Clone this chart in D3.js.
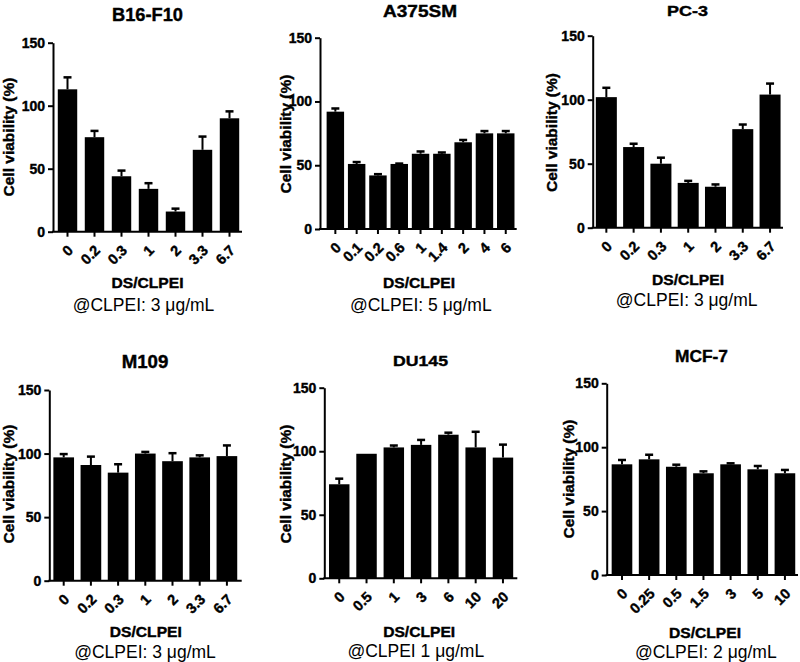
<!DOCTYPE html>
<html>
<head>
<meta charset="utf-8">
<script src="https://cdn.jsdelivr.net/npm/d3@7"></script>
<style>
  html, body { margin: 0; padding: 0; background: #fff; }
  svg { display: block; }
  text { font-family: "Liberation Sans", Arial, sans-serif; fill: #000; }
  .heavy { stroke: #000; stroke-width: 0.4px; }
</style>
</head>
<body>
<svg id="chart" width="800" height="662"></svg>
<script>
// ---------- DATA ----------
const panelTitles = ["B16-F10", "A375SM", "PC-3", "M109", "DU145", "MCF-7"];
const panelCaptions = ["@CLPEI: 3 μg/mL", "@CLPEI: 5 μg/mL", "@CLPEI: 3 μg/mL",
                       "@CLPEI: 3 μg/mL", "@CLPEI 1 μg/mL", "@CLPEI: 2 μg/mL"];
const xAxisTitle = "DS/CLPEI";
const yAxisTitle = "Cell viability (%)";
const yTicks = [0, 50, 100, 150];

const b16Categories = ["0", "0.2", "0.3", "1", "2", "3.3", "6.7"];
const b16Values     = [113, 75, 44, 34, 16, 65, 90];
const b16Errors     = [9.5, 5, 4.5, 4.5, 2.3, 10.5, 5.5];

const a375Categories = ["0", "0.1", "0.2", "0.6", "1", "1.4", "2", "4", "6"];
const a375Values     = [92, 51, 42, 51, 59, 59, 68, 75, 75];
const a375Errors     = [2.5, 1.5, 1, 0.3, 1.8, 1, 1.8, 1.8, 1.8];

const pc3Categories = ["0", "0.2", "0.3", "1", "2", "3.3", "6.7"];
const pc3Values     = [102, 63, 50, 35, 32, 77, 104];
const pc3Errors     = [7.3, 2.6, 4.7, 1.6, 1.8, 3.6, 8.6];

const m109Categories = ["0", "0.2", "0.3", "1", "2", "3.3", "6.7"];
const m109Values     = [97, 91, 85, 100, 94, 97, 98];
const m109Errors     = [2.6, 6.6, 6.6, 1.3, 6.3, 1.6, 8.4];

const du145Categories = ["0", "0.5", "1", "3", "6", "10", "20"];
const du145Values     = [74, 98, 103, 105, 113, 103, 95];
const du145Errors     = [4.4, 0, 1.5, 3.9, 1.6, 12.3, 10.2];

const mcf7Categories = ["0", "0.25", "0.5", "1.5", "3", "5", "10"];
const mcf7Values     = [86.6, 90.5, 84.7, 79.6, 86.6, 82.7, 79.6];
const mcf7Errors     = [3.4, 3.6, 1.6, 1.5, 0.8, 2.6, 2.6];

const panelData = [
  [b16Categories, b16Values, b16Errors],
  [a375Categories, a375Values, a375Errors],
  [pc3Categories, pc3Values, pc3Errors],
  [m109Categories, m109Values, m109Errors],
  [du145Categories, du145Values, du145Errors],
  [mcf7Categories, mcf7Values, mcf7Errors]
];

// ---------- LAYOUT (positions & styles) ----------
const layout = [
  {axisX: 53,    xEnd: 242,   y0: 231.7, yTop: 42.7,  bandL: 54,    bandR: 243,   pad: 0.28,
   tX: 147.5, tY: 21,  tSize: 18,   tLen: 71,   ytX: 14,  ytY: 137,
   dsX: 147.5, dsY: 288, capX: 143.5, capY: 311},
  {axisX: 320,   xEnd: 516.7, y0: 229,   yTop: 37.7,  bandL: 324.7, bandR: 516.4, pad: 0.18,
   tX: 420,   tY: 16.5, tSize: 16, tLen: 74,   ytX: 291, ytY: 134,
   dsX: 419,  dsY: 288, capX: 420.8, capY: 311},
  {axisX: 592.7, xEnd: 783,   y0: 227.7, yTop: 35.7,  bandL: 592.7, bandR: 783.7, pad: 0.23,
   tX: 687.5, tY: 15.5, tSize: 15, tLen: 41,   ytX: 557, ytY: 132.5,
   dsX: 688,  dsY: 285, capX: 686.7, capY: 306},
  {axisX: 49.3,  xEnd: 241.7, y0: 580.7, yTop: 390,   bandL: 50.1,  bandR: 240.5, pad: 0.24,
   tX: 145,   tY: 368, tSize: 17.5, tLen: 46.7, ytX: 14,  ytY: 484,
   dsX: 145.8, dsY: 637, capX: 145, capY: 658},
  {axisX: 324.3, xEnd: 517.3, y0: 578.3, yTop: 387.7, bandL: 325.6, bandR: 516.6, pad: 0.25,
   tX: 420.5, tY: 365.5, tSize: 15, tLen: 55,   ytX: 291, ytY: 484,
   dsX: 419.2, dsY: 637, capX: 415.8, capY: 657},
  {axisX: 606.7, xEnd: 798,   y0: 575,   yTop: 383.3, bandL: 608.4, bandR: 798.5, pad: 0.24,
   tX: 701.5, tY: 362, tSize: 16.5, tLen: 53,  ytX: 574, ytY: 479,
   dsX: 705,  dsY: 638, capX: 705.8, capY: 658}
];

const svg = d3.select("#chart");
const FONT = '"Liberation Sans", Arial, sans-serif';

panelData.forEach(([cats, vals, errs], i) => {
  const L = layout[i];
  const g = svg.append("g");
  const rows = cats.map((c, k) => ({c, v: vals[k], e: errs[k]}));

  const x = d3.scaleBand().domain(cats).range([L.bandL, L.bandR])
    .paddingInner(L.pad).paddingOuter(L.pad / 2);
  const y = d3.scaleLinear().domain([0, 150]).range([L.y0, L.yTop]);

  // bars
  g.selectAll("rect.bar").data(rows).join("rect")
    .attr("class", "bar")
    .attr("x", d => x(d.c))
    .attr("width", x.bandwidth())
    .attr("y", d => y(d.v))
    .attr("height", d => y(0) - y(d.v))
    .attr("fill", "#000");

  // error bars (upper only)
  const eb = g.selectAll("g.err").data(rows.filter(d => d.e > 0)).join("g").attr("class", "err");
  eb.append("line")
    .attr("x1", d => x(d.c) + x.bandwidth() / 2)
    .attr("x2", d => x(d.c) + x.bandwidth() / 2)
    .attr("y1", d => y(d.v))
    .attr("y2", d => y(d.v + d.e))
    .attr("stroke", "#000").attr("stroke-width", 2);
  eb.append("line")
    .attr("x1", d => x(d.c) + x.bandwidth() / 2 - 4)
    .attr("x2", d => x(d.c) + x.bandwidth() / 2 + 4)
    .attr("y1", d => y(d.v + d.e))
    .attr("y2", d => y(d.v + d.e))
    .attr("stroke", "#000").attr("stroke-width", 2.5);

  // y axis
  const ya = g.append("g")
    .attr("transform", `translate(${L.axisX},0)`)
    .call(d3.axisLeft(y).tickValues(yTicks).tickSize(5).tickSizeOuter(0).tickPadding(3));
  ya.select(".domain").attr("stroke", "#000").attr("stroke-width", 2);
  ya.selectAll(".tick line").attr("stroke", "#000").attr("stroke-width", 2);
  ya.selectAll(".tick text")
    .attr("class", "heavy")
    .style("font-family", FONT)
    .style("font-weight", "bold").style("font-size", "14px").attr("fill", "#000");

  // x axis
  const xa = g.append("g")
    .attr("transform", `translate(0,${L.y0})`)
    .call(d3.axisBottom(x).tickSize(5).tickSizeOuter(0));
  xa.select(".domain").remove();
  xa.selectAll(".tick line").attr("stroke", "#000").attr("stroke-width", 2);
  xa.selectAll(".tick text")
    .attr("class", "heavy")
    .attr("x", 0).attr("y", 0).attr("dy", 0)
    .attr("text-anchor", "end")
    .attr("transform", "translate(6.5,19.5) rotate(-45)")
    .style("font-family", FONT)
    .style("font-weight", "bold").style("font-size", "14.5px").attr("fill", "#000");
  g.append("line")
    .attr("x1", L.axisX - 1).attr("x2", L.xEnd)
    .attr("y1", L.y0).attr("y2", L.y0)
    .attr("stroke", "#000").attr("stroke-width", 2);

  // title
  g.append("text")
    .attr("class", "heavy")
    .attr("x", L.tX).attr("y", L.tY)
    .attr("text-anchor", "middle")
    .attr("textLength", L.tLen).attr("lengthAdjust", "spacingAndGlyphs")
    .style("font-weight", "bold").style("font-size", L.tSize + "px")
    .text(panelTitles[i]);

  // y axis title
  g.append("text")
    .attr("class", "heavy")
    .attr("transform", `translate(${L.ytX},${L.ytY}) rotate(-90)`)
    .attr("text-anchor", "middle")
    .attr("textLength", 119).attr("lengthAdjust", "spacingAndGlyphs")
    .style("font-weight", "bold").style("font-size", "15.5px")
    .text(yAxisTitle);

  // x axis title
  g.append("text")
    .attr("class", "heavy")
    .attr("x", L.dsX).attr("y", L.dsY)
    .attr("text-anchor", "middle")
    .attr("textLength", 72).attr("lengthAdjust", "spacingAndGlyphs")
    .style("font-weight", "bold").style("font-size", "15px")
    .text(xAxisTitle);

  // caption
  g.append("text")
    .attr("x", L.capX).attr("y", L.capY)
    .attr("text-anchor", "middle")
    .style("font-size", "17.5px")
    .text(panelCaptions[i]);
});
</script>
</body>
</html>
